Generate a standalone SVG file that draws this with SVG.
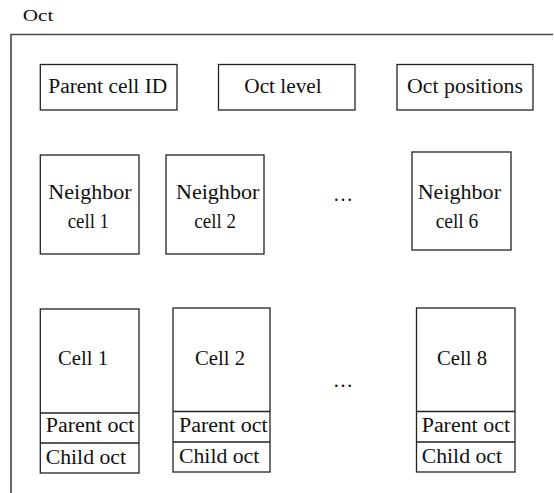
<svg xmlns="http://www.w3.org/2000/svg" width="554" height="493" viewBox="0 0 554 493">
<style>
rect.b{fill:#fff;stroke:#222;stroke-width:1.3}
line.d{stroke:#222;stroke-width:1.3}
text{font-family:"Liberation Serif","Times New Roman",serif;font-size:20px;fill:#111}
text.t{font-size:17px}
</style>
<rect width="554" height="493" fill="#fff"/>
<g id="oct-frame">
<path d="M11,493 V34.5 H553" fill="none" stroke="#444" stroke-width="1.6"/>
<text class="t" x="22.7" y="20.5" textLength="30.6" lengthAdjust="spacingAndGlyphs">Oct</text>
</g>
<g id="parent-cell-id">
<rect class="b" x="40.3" y="64.5" width="136.7" height="45.5"/>
<text x="48.3" y="93" textLength="119" lengthAdjust="spacingAndGlyphs">Parent cell ID</text>
</g>
<g id="oct-level">
<rect class="b" x="218.5" y="64.5" width="136.5" height="45.5"/>
<text x="244.3" y="93" textLength="77.4" lengthAdjust="spacingAndGlyphs">Oct level</text>
</g>
<g id="oct-positions">
<rect class="b" x="397" y="64.5" width="136" height="45.5"/>
<text x="407" y="93" textLength="116" lengthAdjust="spacingAndGlyphs">Oct positions</text>
</g>
<g id="neighbor-1">
<rect class="b" x="40.3" y="155" width="98.7" height="99"/>
<text x="48.3" y="199" textLength="83.3" lengthAdjust="spacingAndGlyphs">Neighbor</text>
<text x="67.7" y="227.5" textLength="41.3" lengthAdjust="spacingAndGlyphs">cell 1</text>
</g>
<g id="neighbor-2">
<rect class="b" x="166" y="155" width="98" height="99"/>
<text x="176" y="199" textLength="83.3" lengthAdjust="spacingAndGlyphs">Neighbor</text>
<text x="194.3" y="227.5" textLength="41.7" lengthAdjust="spacingAndGlyphs">cell 2</text>
</g>
<g id="neighbor-ellipsis">
<text x="333" y="201" textLength="20" lengthAdjust="spacingAndGlyphs">…</text>
</g>
<g id="neighbor-6">
<rect class="b" x="412" y="152" width="99" height="98"/>
<text x="417.7" y="199" textLength="83.3" lengthAdjust="spacingAndGlyphs">Neighbor</text>
<text x="435.7" y="227.5" textLength="42.6" lengthAdjust="spacingAndGlyphs">cell 6</text>
</g>
<g id="cell-1">
<rect class="b" x="40.3" y="309" width="98.7" height="164"/>
<line class="d" x1="40.3" y1="413" x2="139" y2="413"/>
<line class="d" x1="40.3" y1="443" x2="139" y2="443"/>
<text x="58" y="365" textLength="50" lengthAdjust="spacingAndGlyphs">Cell 1</text>
<text x="45.7" y="432" textLength="88.6" lengthAdjust="spacingAndGlyphs">Parent oct</text>
<text x="45.7" y="463.5" textLength="80.3" lengthAdjust="spacingAndGlyphs">Child oct</text>
</g>
<g id="cell-2">
<rect class="b" x="173" y="308" width="97" height="164"/>
<line class="d" x1="173" y1="411.5" x2="270" y2="411.5"/>
<line class="d" x1="173" y1="442" x2="270" y2="442"/>
<text x="195" y="365" textLength="50" lengthAdjust="spacingAndGlyphs">Cell 2</text>
<text x="179" y="431.5" textLength="88.6" lengthAdjust="spacingAndGlyphs">Parent oct</text>
<text x="179" y="463" textLength="80.3" lengthAdjust="spacingAndGlyphs">Child oct</text>
</g>
<g id="cell-ellipsis">
<text x="333" y="387" textLength="20" lengthAdjust="spacingAndGlyphs">…</text>
</g>
<g id="cell-8">
<rect class="b" x="416.5" y="308" width="98.5" height="164"/>
<line class="d" x1="416.5" y1="411.5" x2="515" y2="411.5"/>
<line class="d" x1="416.5" y1="442" x2="515" y2="442"/>
<text x="437" y="365" textLength="50" lengthAdjust="spacingAndGlyphs">Cell 8</text>
<text x="421.7" y="431.5" textLength="88.3" lengthAdjust="spacingAndGlyphs">Parent oct</text>
<text x="421.7" y="463" textLength="80.3" lengthAdjust="spacingAndGlyphs">Child oct</text>
</g>
</svg>
